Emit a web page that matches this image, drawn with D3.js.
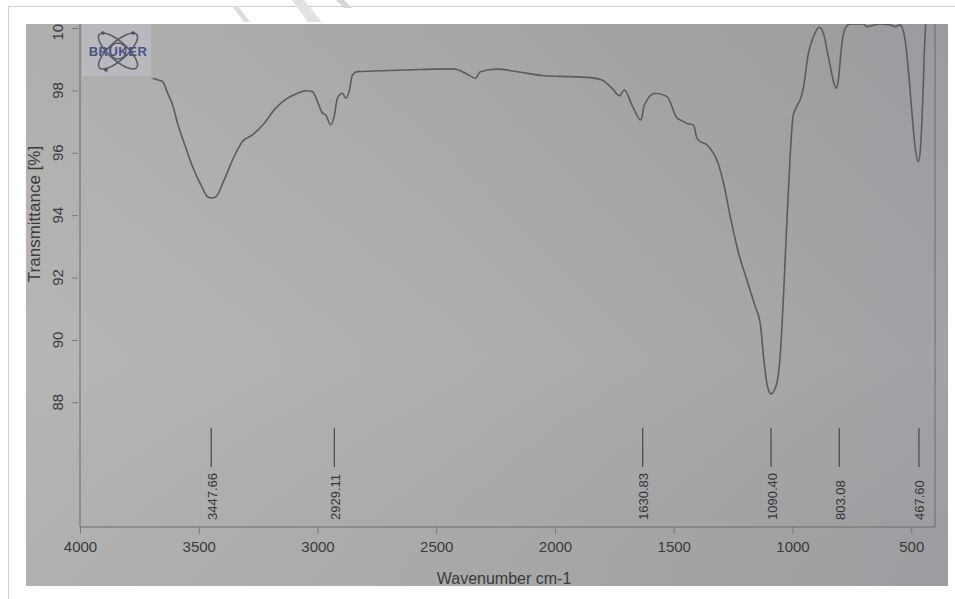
<!DOCTYPE html>
<html>

<head>
  <title>FTIR spectrum</title>
  <script src="https://d3js.org/d3.v7.min.js"></script>
  <style>
    body {
      margin: 0;
      background: #fff;
    }

    svg#chart {
      display: block;
      font-family: "Liberation Sans", Arial, sans-serif;
    }

    .tick-label {
      fill: #3b3b3b;
      font-size: 15px;
    }

    .peak-label {
      fill: #353535;
      font-size: 13px;
    }
  </style>
</head>

<body>
  <svg id="chart" width="955" height="599"></svg>

  <script>
    // spectrum (wavenumber cm-1, transmittance %)
    const wavenumbers = [3694, 3670, 3652, 3631, 3610, 3589, 3561, 3526, 3491, 3463, 3447, 3428, 3393, 3351, 3316,
      3274, 3225, 3176, 3126, 3084, 3050, 3021, 3000, 2979, 2965, 2945, 2930, 2916, 2895, 2881, 2867, 2853, 2832,
      2764, 2566, 2426, 2370, 2335, 2314, 2243, 2145, 2047, 1935, 1851, 1802, 1760, 1728, 1708, 1676, 1638, 1624,
      1578, 1528, 1486, 1472, 1444, 1417, 1402, 1388, 1360, 1311, 1290, 1262, 1227, 1192, 1157, 1136, 1122, 1108,
      1091, 1066, 1052, 1038, 1024, 1010, 998, 989, 975, 968, 954, 933, 912, 887, 870, 849, 815, 807, 792, 778,
      757, 702, 687, 631, 589, 568, 547, 526, 512, 498, 484, 471, 463, 452, 445, 436];
    const transmittance = [98.39, 98.33, 98.28, 97.91, 97.53, 96.94, 96.30, 95.55, 94.97, 94.59, 94.55, 94.59, 95.13,
      95.88, 96.36, 96.57, 96.94, 97.43, 97.75, 97.91, 97.99, 97.96, 97.64, 97.27, 97.21, 96.90, 97.16, 97.75,
      97.91, 97.75, 97.96, 98.49, 98.60, 98.62, 98.67, 98.69, 98.52, 98.39, 98.60, 98.68, 98.58, 98.47, 98.44,
      98.41, 98.33, 98.07, 97.83, 98.01, 97.53, 97.05, 97.53, 97.91, 97.80, 97.11, 97.05, 96.94, 96.89, 96.46,
      96.36, 96.25, 95.61, 95.02, 93.95, 92.78, 91.92, 91.07, 90.54, 89.47, 88.61, 88.27, 88.61, 89.47, 91.39,
      93.74, 95.88, 97.16, 97.37, 97.59, 97.69, 98.10, 99.19, 99.72, 100.02, 99.83, 99.08, 98.07, 98.33, 99.51,
      99.99, 100.13, 100.13, 100.04, 100.13, 100.10, 100.04, 100.10, 99.62, 98.65, 97.37, 96.20, 95.71, 95.98,
      97.59, 99.19, 100.60];

    const peakPositions = [3447.66, 2929.11, 1630.83, 1090.40, 803.08, 467.60];
    const peakLabels = ["3447.66", "2929.11", "1630.83", "1090.40", "803.08", "467.60"];

    const xTicks = [4000, 3500, 3000, 2500, 2000, 1500, 1000, 500];
    const yTicks = [88, 90, 92, 94, 96, 98, 100];

    const svg = d3.select("#chart");
    const defs = svg.append("defs");

    // photo area (gray paper) and plot frame
    const photo = { x: 26, y: 24, w: 922, h: 562 };
    const plot = { left: 80, right: 935, top: 24, bottom: 527 };

    const x = d3.scaleLinear().domain([4000, 400]).range([plot.left, plot.right]);
    const y = d3.scaleLinear().domain([84, 100]).range([plot.bottom, 28]);

    // outer page lines
    svg.append("line").attr("x1", 8).attr("x2", 955).attr("y1", 6.5).attr("y2", 6.5)
      .attr("stroke", "#cfcfcf");
    svg.append("line").attr("x1", 8.5).attr("x2", 8.5).attr("y1", 6).attr("y2", 599)
      .attr("stroke", "#cfcfcf");

    // faint watermark strokes in the white band
    svg.append("path").attr("d", "M232,6 L238,6 L250,22 L244,22 Z").attr("fill", "#dcdcdc");
    svg.append("path").attr("d", "M292,0 L304,0 L322,22 L308,22 Z").attr("fill", "#e2e2e2");
    svg.append("path").attr("d", "M336,0 L344,0 L352,8 L344,8 Z").attr("fill", "#d6d6d6");

    const bg = defs.append("linearGradient").attr("id", "paper")
      .attr("x1", "0%").attr("y1", "0%").attr("x2", "100%").attr("y2", "0%");
    bg.append("stop").attr("offset", "0%").attr("stop-color", "#b4b4b2");
    bg.append("stop").attr("offset", "45%").attr("stop-color", "#acacac");
    bg.append("stop").attr("offset", "100%").attr("stop-color", "#9fa0a3");

    const shade = defs.append("linearGradient").attr("id", "shade")
      .attr("x1", "0%").attr("y1", "0%").attr("x2", "0%").attr("y2", "100%");
    shade.append("stop").attr("offset", "0%").attr("stop-color", "#000").attr("stop-opacity", 0.03);
    shade.append("stop").attr("offset", "60%").attr("stop-color", "#fff").attr("stop-opacity", 0.03);
    shade.append("stop").attr("offset", "100%").attr("stop-color", "#000").attr("stop-opacity", 0.02);

    svg.append("rect").attr("x", photo.x).attr("y", photo.y).attr("width", photo.w).attr("height", photo.h)
      .attr("fill", "url(#paper)");
    svg.append("rect").attr("x", photo.x).attr("y", photo.y).attr("width", photo.w).attr("height", photo.h)
      .attr("fill", "url(#shade)");

    defs.append("clipPath").attr("id", "photo-clip")
      .append("rect").attr("x", photo.x).attr("y", photo.y).attr("width", photo.w).attr("height", photo.h);
    defs.append("clipPath").attr("id", "plot-clip")
      .append("rect").attr("x", plot.left).attr("y", plot.top)
      .attr("width", plot.right - plot.left).attr("height", plot.bottom - plot.top);

    const g = svg.append("g").attr("clip-path", "url(#photo-clip)");

    // Bruker logo
    const logo = g.append("g");
    logo.append("rect").attr("x", 82).attr("y", 24).attr("width", 69).attr("height", 52)
      .attr("fill", "#bdbdc4").attr("opacity", 0.7);
    [-42, 42].forEach(a => {
      logo.append("ellipse").attr("cx", 0).attr("cy", 0).attr("rx", 25).attr("ry", 9)
        .attr("transform", `translate(118,51) rotate(${a})`)
        .attr("fill", "none").attr("stroke", "#5b5d66").attr("stroke-width", 1.6);
    });
    logo.append("circle").attr("cx", 118).attr("cy", 51).attr("r", 8)
      .attr("fill", "none").attr("stroke", "#5b5d66").attr("stroke-width", 1.4);
    [[103, 33], [106, 70], [133, 33]].forEach(p => {
      logo.append("circle").attr("cx", p[0]).attr("cy", p[1]).attr("r", 1.8).attr("fill", "#4a4c58");
    });
    logo.append("text").attr("x", 118).attr("y", 56).attr("text-anchor", "middle")
      .attr("font-size", 13).attr("font-weight", "bold").attr("letter-spacing", 0.5)
      .attr("fill", "#4a5485").text("BRUKER");

    // frame
    g.append("path")
      .attr("d", `M${plot.left},${plot.top} V${plot.bottom} H${plot.right} V${plot.top}`)
      .attr("fill", "none").attr("stroke", "#6c6c6c").attr("stroke-width", 1);

    // x axis
    const xAxis = g.append("g")
      .attr("transform", `translate(0,${plot.bottom})`)
      .call(d3.axisBottom(x).tickValues(xTicks).tickSize(7).tickSizeOuter(0).tickFormat(d3.format("d")));
    xAxis.select(".domain").remove();
    xAxis.selectAll(".tick line").attr("stroke", "#7a7a7a");
    xAxis.selectAll(".tick text").attr("class", "tick-label").attr("y", 11).attr("dy", "0.9em")
      .attr("font-family", null).attr("font-size", null).attr("fill", null);

    // y axis (ticks sit a little off the frame, labels rotated)
    const yAxis = g.append("g")
      .attr("transform", `translate(${plot.left - 2},0)`)
      .call(d3.axisLeft(y).tickValues(yTicks).tickSize(6).tickSizeOuter(0).tickFormat(() => ""));
    yAxis.select(".domain").remove();
    yAxis.selectAll(".tick line").attr("stroke", "#7a7a7a");

    g.selectAll(".y-label")
      .data(yTicks)
      .enter().append("text")
      .attr("class", "tick-label")
      .attr("text-anchor", "middle")
      .attr("transform", d => `translate(63,${y(d)}) rotate(-90)`)
      .text(d => d);

    // axis titles
    g.append("text")
      .attr("text-anchor", "middle")
      .attr("transform", "translate(40,214) rotate(-90)")
      .attr("font-size", 17).attr("fill", "#3b3b3b")
      .text("Transmittance [%]");

    g.append("text")
      .attr("x", 504).attr("y", 584)
      .attr("text-anchor", "middle")
      .attr("font-size", 16).attr("fill", "#3b3b3b")
      .text("Wavenumber cm-1");

    // peak markers
    g.selectAll(".peak-line")
      .data(peakPositions)
      .enter().append("line")
      .attr("x1", d => x(d)).attr("x2", d => x(d))
      .attr("y1", 428).attr("y2", 467)
      .attr("stroke", "#474747").attr("stroke-width", 1.2);

    g.selectAll(".peak-text")
      .data(peakPositions)
      .enter().append("text")
      .attr("class", "peak-label")
      .attr("transform", d => `translate(${x(d) + 5.5},520) rotate(-90)`)
      .text((d, i) => peakLabels[i]);

    // spectrum
    const line = d3.line()
      .x(d => x(d[0]))
      .y(d => y(d[1]))
      .curve(d3.curveMonotoneX);

    g.append("path")
      .datum(d3.zip(wavenumbers, transmittance))
      .attr("clip-path", "url(#plot-clip)")
      .attr("fill", "none")
      .attr("stroke", "#5c5c5e")
      .attr("stroke-width", 1.6)
      .attr("stroke-linejoin", "round")
      .attr("d", line);
  </script>
</body>

</html>
